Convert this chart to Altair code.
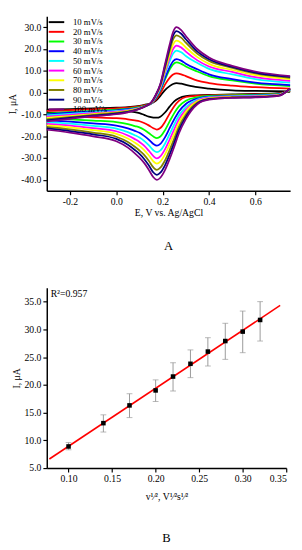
import altair as alt
import pandas as pd

# ---------------- Panel A: cyclic voltammograms ----------------
rates = ["10 mV/s", "20 mV/s", "30 mV/s", "40 mV/s", "50 mV/s",
         "60 mV/s", "70 mV/s", "80 mV/s", "90 mV/s", "100 mV/s"]
colors = ["#000000", "#ff0000", "#00ff00", "#0000ff", "#00ffff",
          "#ff00ff", "#ffff00", "#808000", "#000080", "#800080"]

# potentials of the forward (anodic) scan and of the reverse (cathodic) scan
E_fwd = [-0.3, -0.2, -0.1, 0.0, 0.05, 0.1, 0.13, 0.15, 0.17, 0.19, 0.21,
         0.23, 0.245, 0.26, 0.28, 0.30, 0.35, 0.40, 0.50, 0.60, 0.75]
E_rev = [-0.3, -0.2, -0.1, 0.0, 0.05, 0.08, 0.1, 0.12, 0.14, 0.16, 0.175,
         0.19, 0.21, 0.23, 0.25, 0.27, 0.30, 0.35, 0.40, 0.50, 0.60, 0.70, 0.75]

fwd_10 = [-7.8, -7.5, -7.2, -6.9, -6.6, -6.1, -5.4, -5.0, -3.8, -1.5, 1.2, 3.0, 4.0, 4.4, 4.1, 3.6, 2.5, 1.9, 1.1, 0.8, 0.6]
fwd_20 = [-8.4, -8.0, -7.6, -7.2, -6.9, -6.3, -5.6, -5.0, -3.2, -0.3, 3.7, 6.8, 8.3, 8.8, 8.4, 7.6, 5.5, 4.4, 3.2, 2.5, 1.8]
fwd_30 = [-9.6, -8.9, -8.3, -7.8, -7.3, -6.6, -5.8, -5.0, -2.6, 1.1, 6.0, 10.6, 13.0, 13.9, 13.2, 12.0, 9.7, 7.6, 5.6, 4.1, 3.0]
fwd_40 = [-9.9, -9.2, -8.6, -8.1, -7.6, -6.8, -5.9, -5.0, -2.4, 1.4, 6.8, 11.6, 14.4, 15.4, 14.7, 13.3, 10.7, 8.4, 6.2, 4.6, 3.5]
fwd_50 = [-10.4, -9.7, -9.0, -8.4, -7.9, -7.0, -6.0, -5.0, -2.0, 2.0, 8.4, 14.3, 17.9, 19.3, 18.5, 16.8, 13.6, 10.9, 8.4, 6.2, 4.6]
fwd_60 = [-11.0, -10.2, -9.4, -8.7, -8.1, -7.1, -6.0, -4.9, -1.7, 2.5, 9.3, 15.9, 20.0, 21.6, 20.7, 18.8, 14.8, 12.0, 9.5, 7.1, 5.4]
fwd_70 = [-11.6, -10.7, -9.8, -9.0, -8.3, -7.2, -6.0, -4.8, -1.5, 3.0, 10.2, 17.4, 22.0, 23.8, 22.8, 20.7, 16.3, 13.2, 10.4, 8.0, 6.2]
fwd_80 = [-12.2, -11.2, -10.2, -9.3, -8.6, -7.3, -6.0, -4.7, -1.3, 3.4, 11.2, 19.2, 24.4, 26.3, 25.2, 22.9, 17.8, 14.5, 11.4, 8.8, 6.8]
fwd_90 = [-12.7, -11.6, -10.5, -9.6, -8.8, -7.4, -6.0, -4.6, -1.1, 3.7, 12.1, 20.6, 26.1, 28.2, 27.0, 24.5, 18.8, 15.3, 11.8, 9.2, 7.2]
fwd_100 = [-13.2, -12.0, -10.8, -9.9, -9.0, -7.5, -6.0, -4.5, -1.0, 4.0, 13.0, 22.0, 27.8, 30.0, 28.7, 26.0, 19.9, 16.1, 12.3, 9.7, 7.6]

rev_10 = [-9.2, -9.0, -8.8, -8.6, -8.6, -8.9, -9.4, -10.2, -11.0, -11.4, -11.5, -11.0, -9.1, -6.4, -4.0, -2.6, -1.6, -1.2, -1.0, -0.8, -0.6, -0.2, 0.5]
rev_20 = [-10.7, -10.9, -11.3, -11.7, -12.2, -12.7, -13.1, -13.9, -15.0, -16.3, -16.9, -16.2, -13.4, -9.6, -6.2, -3.8, -2.0, -1.4, -1.2, -1.0, -0.8, -0.4, 0.8]
rev_30 = [-11.8, -12.2, -12.8, -13.5, -14.4, -15.3, -15.9, -17.0, -18.5, -20.1, -20.8, -20.1, -17.2, -13.2, -9.4, -6.3, -3.7, -2.1, -1.5, -1.2, -1.0, -0.6, 1.0]
rev_40 = [-12.7, -13.3, -14.1, -15.1, -16.4, -17.5, -18.4, -19.8, -21.5, -23.5, -24.3, -23.5, -20.5, -16.3, -12.2, -8.6, -5.2, -2.7, -1.8, -1.5, -1.3, -0.8, 1.2]
rev_50 = [-13.5, -14.2, -15.2, -16.5, -18.1, -19.5, -20.6, -22.1, -24.1, -26.4, -27.3, -26.5, -23.4, -19.0, -14.6, -10.5, -6.6, -3.2, -2.1, -1.6, -1.4, -0.9, 1.3]
rev_60 = [-14.3, -15.1, -16.3, -17.7, -19.6, -21.3, -22.6, -24.3, -26.6, -29.1, -30.1, -29.2, -26.0, -21.5, -16.8, -12.3, -7.8, -3.6, -2.3, -1.8, -1.6, -1.0, 1.5]
rev_70 = [-15.0, -15.9, -17.2, -18.9, -21.0, -22.9, -24.4, -26.3, -28.7, -31.5, -32.5, -31.6, -28.3, -23.7, -18.8, -13.9, -8.8, -4.0, -2.6, -2.0, -1.8, -1.1, 1.6]
rev_80 = [-15.7, -16.8, -18.3, -20.2, -22.6, -24.8, -26.5, -28.5, -31.2, -34.3, -35.4, -34.4, -31.1, -26.3, -21.1, -15.7, -10.1, -4.5, -2.8, -2.1, -1.9, -1.3, 1.8]
rev_90 = [-16.4, -17.6, -19.1, -21.2, -23.9, -26.3, -28.1, -30.4, -33.3, -36.6, -37.7, -36.7, -33.3, -28.4, -22.9, -17.2, -11.1, -4.9, -3.0, -2.3, -2.1, -1.4, 1.9]
rev_100 = [-17.0, -18.3, -20.0, -22.3, -25.2, -27.8, -29.8, -32.2, -35.3, -38.8, -40.0, -39.0, -35.5, -30.5, -24.8, -18.7, -12.1, -5.3, -3.2, -2.4, -2.2, -1.5, 2.0]

fwd_all = [fwd_10, fwd_20, fwd_30, fwd_40, fwd_50, fwd_60, fwd_70, fwd_80, fwd_90, fwd_100]
rev_all = [rev_10, rev_20, rev_30, rev_40, rev_50, rev_60, rev_70, rev_80, rev_90, rev_100]

rows = []
for i, r in enumerate(rates):
    for e, v in zip(E_fwd, fwd_all[i]):
        rows.append({"rate": r, "branch": "fwd", "E": e, "I": v})
    for e, v in zip(E_rev, rev_all[i]):
        rows.append({"rate": r, "branch": "rev", "E": e, "I": v})
cv = pd.DataFrame(rows)

# ---------------- Panel B: peak current vs sqrt(scan rate) ----------------
sqrt_v = [0.10, 0.14, 0.17, 0.20, 0.22, 0.24, 0.26, 0.28, 0.30, 0.32]
i_peak = [8.9, 13.1, 16.3, 19.0, 21.5, 23.8, 26.0, 27.9, 29.6, 31.7]
i_low = [8.3, 11.5, 14.1, 17.0, 18.9, 21.3, 23.4, 24.6, 25.8, 27.9]
i_high = [9.6, 14.6, 18.4, 20.9, 24.0, 26.3, 28.5, 31.1, 33.3, 35.0]
fit_extent = [0.078, 0.343]
r2_text = ["R\u00b2=0.957"]

pk = pd.DataFrame({"x": sqrt_v, "y": i_peak, "lo": i_low, "hi": i_high})

FONT = "Liberation Serif"
minus_fix = "replace(format(datum.value, '.1f'), '\u2212', '-')"

cv_chart = alt.Chart(cv).mark_line(strokeWidth=1.8, interpolate="monotone").encode(
    x=alt.X("E:Q", scale=alt.Scale(domain=[-0.3, 0.75], nice=False),
            axis=alt.Axis(title="E, V vs. Ag/AgCl", values=[-0.2, 0.0, 0.2, 0.4, 0.6],
                          labelExpr=minus_fix, titlePadding=1)),
    y=alt.Y("I:Q", scale=alt.Scale(domain=[-45, 35], nice=False),
            axis=alt.Axis(title="I, \u03bcA", values=[-40, -30, -20, -10, 0, 10, 20, 30],
                          labelExpr=minus_fix, titlePadding=3)),
    color=alt.Color("rate:N", sort=rates,
                    scale=alt.Scale(domain=rates, range=colors),
                    legend=alt.Legend(title=None, orient="none", legendX=5, legendY=1,
                                      symbolType="M-2,0H2", symbolStrokeWidth=2,
                                      symbolSize=64, labelFontSize=9, rowPadding=-1,
                                      symbolFillColor="transparent", padding=0,
                                      labelFont=FONT, labelLimit=200, labelOffset=12)),
    detail="branch:N",
    order=alt.Order("E:Q"),
).properties(
    width=251, height=180,
    title=alt.TitleParams("A", orient="bottom", fontSize=13, fontWeight="normal",
                          font=FONT, offset=24),
)

base = alt.Chart(pk)
xB = alt.X("x:Q", scale=alt.Scale(domain=[0.075, 0.35], nice=False),
           axis=alt.Axis(title="v\u00b9\u2044\u00b2, V\u00b9\u2044\u00b2s\u00b9\u2044\u00b2",
                         values=[0.10, 0.15, 0.20, 0.25, 0.30, 0.35], format=".2f",
                         titlePadding=8))
yaxisB = alt.Axis(title="I, \u03bcA", values=[5, 10, 15, 20, 25, 30, 35], format=".1f",
                  titlePadding=3, labelOverlap=False)
yscaleB = alt.Scale(domain=[5, 37.5], nice=False)

err = base.mark_rule(color="#999999", strokeWidth=1).encode(
    x=xB, y=alt.Y("lo:Q", scale=yscaleB, axis=yaxisB), y2="hi:Q")
cap_lo = base.mark_tick(color="#999999", orient="horizontal", size=6, thickness=1).encode(
    x=xB, y=alt.Y("lo:Q", scale=yscaleB, axis=yaxisB))
cap_hi = base.mark_tick(color="#999999", orient="horizontal", size=6, thickness=1).encode(
    x=xB, y=alt.Y("hi:Q", scale=yscaleB, axis=yaxisB))
fit = base.transform_regression("x", "y", extent=fit_extent).mark_line(
    color="#ff0000", strokeWidth=1.6).encode(x=xB, y=alt.Y("y:Q", scale=yscaleB, axis=yaxisB))
pts = base.mark_square(color="#000000", size=22, opacity=1).encode(
    x=xB, y=alt.Y("y:Q", scale=yscaleB, axis=yaxisB))
r2 = alt.Chart(pd.DataFrame({"t": r2_text})).mark_text(
    align="left", baseline="top", fontSize=10, font=FONT).encode(
    x=alt.value(4), y=alt.value(2), text="t:N")

lin_chart = alt.layer(err, cap_lo, cap_hi, fit, pts, r2).properties(
    width=247, height=186,
    title=alt.TitleParams("B", orient="bottom", fontSize=13, fontWeight="normal",
                          font=FONT, offset=32),
)

chart = alt.vconcat(cv_chart, lin_chart, spacing=36).properties(
    padding={"left": 0, "top": 0, "right": 0, "bottom": 0}
).configure(font=FONT).configure_view(stroke=None).configure_axis(
    labelFont=FONT, titleFont=FONT, labelFontSize=10, titleFontSize=10,
    titleFontWeight="normal", labelColor="#000000", titleColor="#000000",
    domainColor="#000000", tickColor="#000000", domainWidth=1.5, tickWidth=1.2,
    tickSize=4, grid=False, labelPadding=2, labelOverlap=False,
)

chart.save("out.html", embed_options={"renderer": "svg", "actions": False})
